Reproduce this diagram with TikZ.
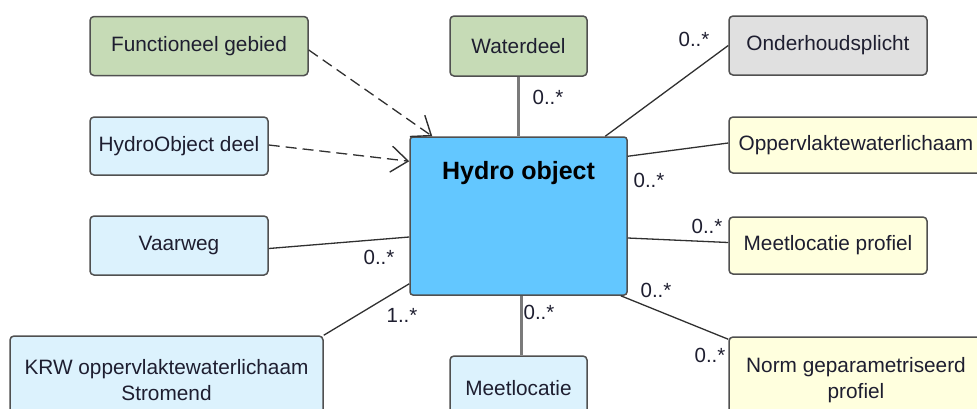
\documentclass[tikz,border=0pt]{standalone}
\usepackage{fontspec}
\setmainfont{Liberation Sans}
\usetikzlibrary{calc,arrows.meta}
\definecolor{bordc}{HTML}{505050}
\definecolor{linec}{HTML}{303030}
\definecolor{vlinec}{HTML}{7A7A7A}
\definecolor{greenc}{HTML}{C6DBB6}
\definecolor{bluec}{HTML}{DCF2FD}
\definecolor{greyc}{HTML}{E0E0E0}
\definecolor{yelc}{HTML}{FFFFDE}
\definecolor{hydroc}{HTML}{63C7FF}
\definecolor{textc}{HTML}{1E1E30}
\tikzset{
  box/.style={draw=bordc, line width=1.5pt, rounded corners=4pt, text=textc,
    font=\fontsize{20.8}{26}\selectfont, align=center, inner sep=0pt},
  conn/.style={draw=linec, line width=1.3pt},
  vconn/.style={draw=vlinec, line width=2.2pt},
  dep/.style={draw=linec, line width=1.3pt, dash pattern=on 11pt off 6pt,
    -{Straight Barb[length=17pt,width=26pt,line width=1.4pt]}},
  mult/.style={text=textc, font=\fontsize{20.5}{24}\selectfont, inner sep=0pt}
}
\begin{document}
\begin{tikzpicture}[x=1pt,y=-1pt]
\useasboundingbox (0,0) rectangle (977,408);
\clip (0,0) rectangle (977,408);
% boxes
\node[box, fill=greenc, minimum width=218pt, minimum height=59pt] (fg) at (199,46) {Functioneel gebied};
\node[box, fill=bluec, minimum width=178pt, minimum height=58pt] (hod) at (179,146) {HydroObject deel};
\node[box, fill=bluec, minimum width=178pt, minimum height=59pt] (vw) at (179,245.5) {Vaarweg};
\node[box, fill=bluec, minimum width=313pt, minimum height=88pt] (krw) at (166.5,380) {KRW oppervlaktewaterlichaam\\Stromend};
\node[box, fill=bluec, minimum width=137pt, minimum height=64pt] (ml) at (518.5,388) {Meetlocatie};
\node[box, fill=greenc, minimum width=137pt, minimum height=60pt] (wd) at (518.5,46) {Waterdeel};
\node[box, fill=greyc, minimum width=198pt, minimum height=59pt] (ohp) at (828,45.5) {Onderhoudsplicht};
\node[box, fill=yelc, minimum width=254pt, minimum height=56pt] (opp) at (856,145) {Oppervlaktewaterlichaam};
\node[box, fill=yelc, minimum width=198pt, minimum height=57pt] (mlp) at (828,245.5) {Meetlocatie profiel};
\node[box, fill=yelc, minimum width=254pt, minimum height=86pt] (norm) at (856,380) {Norm geparametriseerd\\profiel};
\node[box, fill=hydroc, rounded corners=3pt, minimum width=217pt, minimum height=158pt] (hydro) at (518.5,216) {};
\node[text=black, font=\bfseries\fontsize{25}{28}\selectfont, inner sep=0pt] (title) at ($(hydro.north)+(0,37)$) {Hydro object};
% connectors
\draw[dep] ($(fg.east)+(0,4)$) -- ($(hydro.north west)+(23,0)$);
\draw[dep] ($(hod.east)+(0,-1)$) -- ($(hydro.north west)+(0,25)$);
\draw[vconn] (wd.south) -- (hydro.north);
\draw[conn] (ohp.west) -- ($(hydro.north west)+(196,0)$);
\draw[conn] ($(opp.west)+(0,-2)$) -- ($(hydro.north east)+(0,20)$);
\draw[conn] ($(vw.east)+(0,3)$) -- ($(hydro.west)+(0,21)$);
\draw[conn] (krw.north east) -- ($(hydro.south west)+(0,-12)$);
\draw[conn] ($(mlp.west)+(0,-3)$) -- ($(hydro.east)+(0,22)$);
\draw[vconn] ($(hydro.south)+(3,0)$) -- ($(ml.north)+(3,0)$);
\draw[conn] ($(norm.north west)+(0,3)$) -- ($(hydro.south east)+(-7,0)$);
% multiplicities
\node[mult] (m1) at (548,97) {0..*};
\node[mult] (m2) at (694,39) {0..*};
\node[mult] (m3) at (649,180) {0..*};
\node[mult] (m4) at (379,257) {0..*};
\node[mult] (m5) at (402,315) {1..*};
\node[mult] (m6) at (707,226) {0..*};
\node[mult] (m7) at (539,312) {0..*};
\node[mult] (m8) at (656,290) {0..*};
\node[mult] (m9) at (710,355) {0..*};
\end{tikzpicture}
\end{document}
